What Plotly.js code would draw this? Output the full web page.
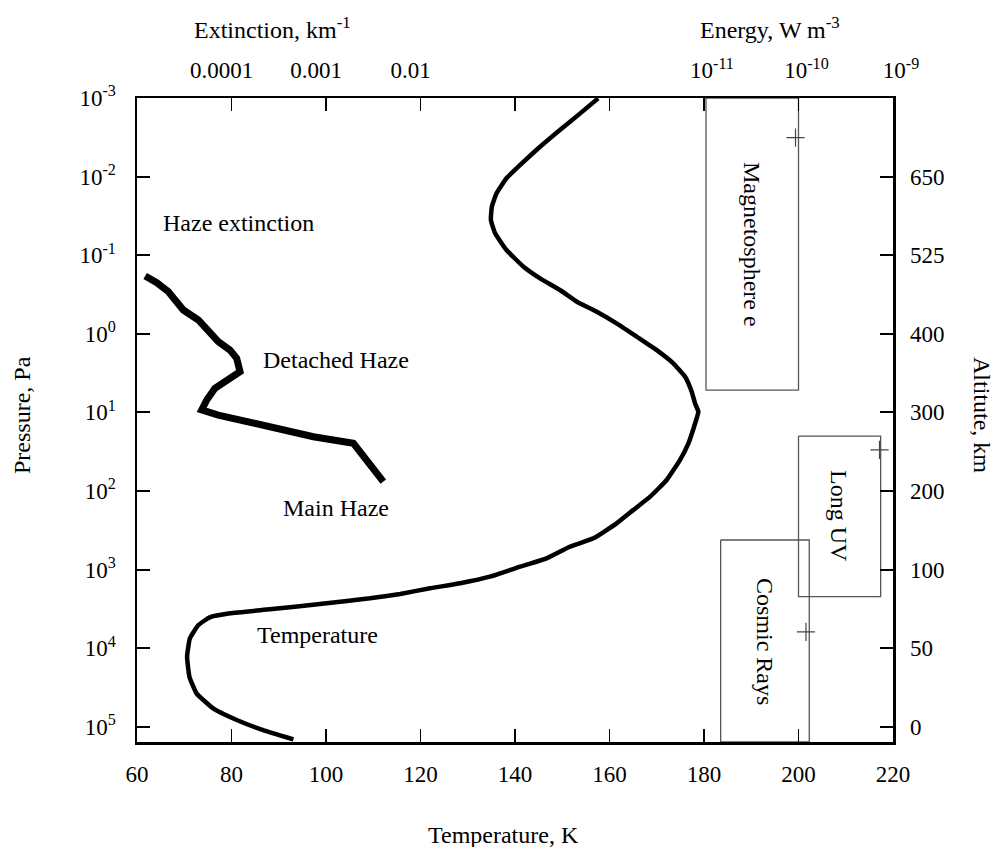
<!DOCTYPE html>
<html>
<head>
<meta charset="utf-8">
<script src="https://cdn.plot.ly/plotly-3.0.1.min.js"></script>
<style>html,body{margin:0;padding:0;background:#fff;}#chart{width:994px;height:847px;}</style>
</head>
<body>
<div id="chart"></div>
<script>
// Temperature profile (K) vs pressure (Pa)
const tempK = [157.6,153.8,149.5,145.3,141.1,138.2,136.1,135.1,134.9,135.8,138.2,141.8,145.3,149.5,153.1,157.3,161.5,165.8,170.0,173.5,176.0,177.4,178.1,178.8,177.9,176.7,174.9,172.1,168.6,165.0,161.5,156.6,151.6,146.7,141.1,134.7,128.4,122.0,115.7,109.3,98.7,88.1,79.7,75.4,73.0,71.2,70.6,71.1,72.6,76.1,81.1,86.7,93.1];
const tempP = [0.00101,0.00157,0.00255,0.00417,0.00711,0.0105,0.0163,0.0242,0.0356,0.0526,0.0859,0.140,0.197,0.277,0.391,0.524,0.735,1.09,1.61,2.37,3.52,5.46,7.66,9.79,15.2,24.7,40.4,72.4,118,175,258,400,512,718,918,1230,1490,1730,2040,2320,2740,3200,3600,4050,5070,7480,12800,23100,37500,58200,81800,109900,144200];

// Haze extinction (km^-1) vs pressure (Pa)
const hazeExt = [1.22e-5,1.62e-5,2.14e-5,2.63e-5,3.09e-5,4.46e-5,5.69e-5,7.24e-5,9.64e-5,1.135e-4,1.23e-4,8.89e-5,6.68e-5,5.47e-5,4.84e-5,7.24e-5,1.45e-4,3.26e-4,7.35e-4,1.95e-3,2.70e-3,4.04e-3];
const hazeP = [0.184,0.224,0.290,0.390,0.498,0.667,0.895,1.26,1.61,2.05,3.03,3.87,4.94,6.95,9.31,10.8,13.1,16.7,20.4,24.7,40.4,75.9];

// Energy deposition boxes (W m^-3) over pressure ranges (Pa)
const boxNames = ["Magnetosphere e", "Long UV", "Cosmic Rays"];
const boxE0 = [1.05e-11, 1.0e-10, 1.5e-11];
const boxE1 = [1.0e-10, 7.4e-10, 1.3e-10];
const boxPtop = [0.001, 20, 420];
const boxPbot = [5.2, 2200, 155000];
const peakE = [9.3e-11, 7.2e-10, 1.2e-10];
const peakP = [0.0032, 30, 6200];

// Axis ticks
const pTicks = [1e-3,1e-2,1e-1,1,10,100,1000,1e4,1e5];
const pTickText = ["10<sup>-3</sup>","10<sup>-2</sup>","10<sup>-1</sup>","10<sup>0</sup>","10<sup>1</sup>","10<sup>2</sup>","10<sup>3</sup>","10<sup>4</sup>","10<sup>5</sup>"];
const altTickP = [1e-2,1e-1,1,10,100,1000,1e4,1e5];
const altTickText = ["650","525","400","300","200","100","50","0"];
const tTicks = [60,80,100,120,140,160,180,200,220];
const extTicks = [1e-4,1e-3,1e-2];
const extTickText = ["0.0001","0.001","0.01"];
const enTicks = [1e-11,1e-10,1e-9];
const enTickText = ["10<sup>-11</sup>","10<sup>-10</sup>","10<sup>-9</sup>"];

const FONT = "Liberation Serif, Times New Roman, serif";

const traces = [];
traces.push({x: tempK, y: tempP, xaxis:'x', yaxis:'y', mode:'lines', line:{color:'#000', width:4.5, shape:'spline', smoothing:0.4}, hoverinfo:'skip'});
traces.push({x: hazeExt, y: hazeP, xaxis:'x2', yaxis:'y', mode:'lines', line:{color:'#000', width:7}, hoverinfo:'skip'});
for (let i = 0; i < boxNames.length; i++) {
  traces.push({
    x: [boxE0[i], boxE1[i], boxE1[i], boxE0[i], boxE0[i]],
    y: [boxPtop[i], boxPtop[i], boxPbot[i], boxPbot[i], boxPtop[i]],
    xaxis:'x3', yaxis:'y', mode:'lines', line:{color:'#555', width:1.3}, hoverinfo:'skip'
  });
}
traces.push({x: peakE, y: peakP, xaxis:'x3', yaxis:'y', mode:'markers', marker:{symbol:'cross-thin', size:13, line:{color:'#444', width:1.2}}, hoverinfo:'skip'});
traces.push({x: [], y: [], xaxis:'x', yaxis:'y2', mode:'lines', hoverinfo:'skip'});

function px(v){ return (v-137)/756; }
function py(v){ return (742-v)/644; }

const annText = {font:{family:FONT, size:24, color:'#000'}, showarrow:false, xref:'paper', yref:'paper', xanchor:'center', yanchor:'middle'};
const annotations = [
  Object.assign({text:'Haze extinction', x:px(238), y:py(223)}, annText),
  Object.assign({text:'Detached Haze', x:px(336), y:py(360)}, annText),
  Object.assign({text:'Main Haze', x:px(336), y:py(508)}, annText),
  Object.assign({text:'Temperature', x:px(317), y:py(635)}, annText),
  Object.assign({text:'Magnetosphere e', x:px(752), y:py(244), textangle:90}, annText),
  Object.assign({text:'Long UV', x:px(839), y:py(516), textangle:90}, annText),
  Object.assign({text:'Cosmic Rays', x:px(765), y:py(641), textangle:90}, annText),
  Object.assign({text:'Extinction, km<sup>-1</sup>', x:px(272), y:py(28)}, annText),
  Object.assign({text:'Energy, W m<sup>-3</sup>', x:px(770), y:py(28)}, annText),
  Object.assign({text:'Pressure, Pa', x:px(22), y:py(415), textangle:-90}, annText),
  Object.assign({text:'Altitute, km', x:px(982), y:py(415), textangle:90}, annText),
  Object.assign({text:'Temperature, K', x:px(503), y:py(835)}, annText)
];

const tickFont = {family:FONT, size:23, color:'#000'};
const layout = {
  width:994, height:847,
  margin:{l:137, r:101, t:98, b:105, pad:0},
  paper_bgcolor:'#fff', plot_bgcolor:'#fff',
  showlegend:false,
  font:{family:FONT, color:'#000'},
  xaxis:{type:'linear', range:[60,220], tickvals:tTicks, ticks:'inside', ticklen:13, tickwidth:1.3, tickcolor:'#000',
         showline:true, linewidth:2.5, linecolor:'#000', mirror:'ticks', showgrid:false, zeroline:false,
         tickfont:tickFont, ticklabelstandoff:10},
  xaxis2:{type:'log', overlaying:'x', side:'top', range:[-5,3], tickvals:extTicks, ticktext:extTickText, ticks:'',
          showline:false, showgrid:false, zeroline:false, tickfont:tickFont, ticklabelstandoff:14, ticklabelshift:-10},
  xaxis3:{type:'log', overlaying:'x', side:'top', range:[-17,-9], tickvals:enTicks, ticktext:enTickText, ticks:'',
          showline:false, showgrid:false, zeroline:false, tickfont:tickFont, ticklabelstandoff:14, ticklabelshift:8},
  yaxis:{type:'log', range:[5.193,-3], tickvals:pTicks, ticktext:pTickText, ticks:'inside', ticklen:13, tickwidth:2, tickcolor:'#000',
         showline:true, linewidth:2.5, linecolor:'#000', showgrid:false, zeroline:false, tickfont:tickFont, ticklabelstandoff:14},
  yaxis2:{type:'log', overlaying:'y', side:'right', range:[5.193,-3], tickvals:altTickP, ticktext:altTickText, ticks:'inside', ticklen:13, tickwidth:2, tickcolor:'#000',
          showline:true, linewidth:2.5, linecolor:'#000', showgrid:false, zeroline:false, tickfont:tickFont, ticklabelstandoff:10},
  annotations:annotations
};

Plotly.newPlot('chart', traces, layout, {staticPlot:true, displayModeBar:false});
</script>
</body>
</html>
